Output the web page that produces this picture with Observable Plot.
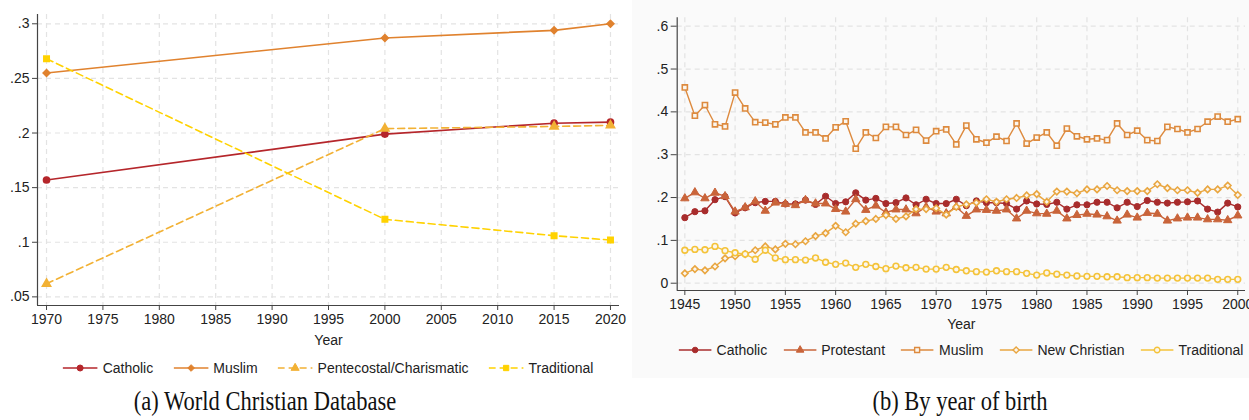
<!DOCTYPE html>
<html>
<head>
<meta charset="utf-8">
<script src="https://cdn.jsdelivr.net/npm/d3@7"></script>
<script src="https://cdn.jsdelivr.net/npm/@observablehq/plot@0.6"></script>
<style>
  body { margin: 0; background: #fff; }
  #root { position: relative; width: 1249px; height: 420px; background: #fff; overflow: hidden; font-family: "Liberation Sans", Arial, sans-serif; }
  #pa { position: absolute; left: 0; top: 0; }
  #pbBox { position: absolute; left: 632px; top: 0; width: 617px; height: 378px; background: #fafafa; }
  #pb { position: absolute; left: 0; top: 0; }
  .legend { position: absolute; display: flex; align-items: center; font-size: 14px; color: #222; white-space: nowrap; transform: translateX(-50%); }
  .legend .item { display: flex; align-items: center; }
  .legend svg { display: block; margin-right: 5px; }
  .caption { position: absolute; font-family: "Liberation Serif", "DejaVu Serif", serif; font-size: 26.5px; color: #111; white-space: nowrap; transform: translateX(-50%) scaleX(0.85); transform-origin: 50% 50%; }
</style>
</head>
<body>
<div id="root">
  <div id="pa"></div>
  <div id="pbBox"><div id="pb"></div></div>
  <div id="legA" class="legend" style="left:328px; top:360px; gap:20px"></div>
  <div id="legB" class="legend" style="left:961px; top:342px; gap:16px"></div>
  <div class="caption" style="left:265px; top:386px">(a) World Christian Database</div>
  <div class="caption" style="left:960px; top:386px">(b) By year of birth</div>
</div>
<script>
// ---------- Panel (a): World Christian Database ----------
const yearsA = [1970, 2000, 2015, 2020];
const catholicA = [0.157, 0.199, 0.209, 0.210];
const muslimA = [0.255, 0.287, 0.294, 0.300];
const pentecostalA = [0.062, 0.204, 0.206, 0.207];
const traditionalA = [0.268, 0.121, 0.106, 0.102];

const xTicksA = [1970, 1975, 1980, 1985, 1990, 1995, 2000, 2005, 2010, 2015, 2020];
const yTicksA = [0.05, 0.1, 0.15, 0.2, 0.25, 0.3];
const xDomainA = [1969.2, 2020.8];
const yDomainA = [0.0421, 0.3085];

// ---------- Panel (b): by year of birth ----------
const yearsB = d3.range(1945, 2001);
const catholicB = [
  0.153, 0.167, 0.169, 0.195, 0.202, 0.164, 0.176, 0.188, 0.191, 0.191,
  0.185, 0.185, 0.194, 0.184, 0.203, 0.186, 0.190, 0.211, 0.194, 0.198,
  0.186, 0.188, 0.199, 0.183, 0.196, 0.186, 0.186, 0.196, 0.181, 0.192,
  0.188, 0.188, 0.186, 0.173, 0.192, 0.185, 0.184, 0.189, 0.173, 0.183,
  0.183, 0.189, 0.189, 0.176, 0.189, 0.179, 0.193, 0.189, 0.187, 0.189,
  0.190, 0.192, 0.173, 0.166, 0.187, 0.178
];
const protestantB = [
  0.198, 0.212, 0.198, 0.211, 0.203, 0.167, 0.177, 0.191, 0.169, 0.188,
  0.185, 0.182, 0.194, 0.186, 0.186, 0.173, 0.167, 0.196, 0.171, 0.181,
  0.165, 0.172, 0.172, 0.163, 0.178, 0.167, 0.163, 0.178, 0.157, 0.172,
  0.171, 0.169, 0.172, 0.151, 0.169, 0.163, 0.162, 0.169, 0.151, 0.159,
  0.162, 0.160, 0.156, 0.146, 0.160, 0.153, 0.164, 0.162, 0.146, 0.151,
  0.153, 0.153, 0.149, 0.149, 0.147, 0.158
];
const muslimB = [
  0.457, 0.391, 0.416, 0.371, 0.366, 0.445, 0.408, 0.376, 0.375, 0.371,
  0.387, 0.387, 0.352, 0.352, 0.338, 0.364, 0.378, 0.314, 0.352, 0.339,
  0.365, 0.365, 0.346, 0.358, 0.333, 0.355, 0.359, 0.324, 0.368, 0.336,
  0.328, 0.342, 0.332, 0.373, 0.326, 0.340, 0.352, 0.321, 0.361, 0.343,
  0.336, 0.338, 0.334, 0.373, 0.346, 0.356, 0.334, 0.332, 0.365, 0.360,
  0.352, 0.360, 0.377, 0.389, 0.377, 0.383
];
const newChristianB = [
  0.023, 0.033, 0.030, 0.039, 0.058, 0.063, 0.068, 0.077, 0.086, 0.079,
  0.092, 0.091, 0.098, 0.110, 0.117, 0.134, 0.119, 0.139, 0.145, 0.150,
  0.159, 0.150, 0.156, 0.173, 0.173, 0.175, 0.160, 0.178, 0.184, 0.188,
  0.196, 0.190, 0.196, 0.199, 0.205, 0.208, 0.190, 0.214, 0.214, 0.210,
  0.219, 0.219, 0.227, 0.217, 0.215, 0.215, 0.215, 0.231, 0.222, 0.217,
  0.217, 0.211, 0.219, 0.219, 0.228, 0.206
];
const traditionalB = [
  0.077, 0.079, 0.078, 0.086, 0.076, 0.071, 0.068, 0.056, 0.077, 0.059,
  0.055, 0.055, 0.054, 0.059, 0.049, 0.044, 0.047, 0.037, 0.044, 0.039,
  0.034, 0.040, 0.036, 0.037, 0.033, 0.033, 0.037, 0.032, 0.029, 0.027,
  0.026, 0.029, 0.027, 0.027, 0.023, 0.019, 0.024, 0.021, 0.019, 0.017,
  0.016, 0.016, 0.015, 0.015, 0.013, 0.013, 0.013, 0.012, 0.012, 0.012,
  0.012, 0.012, 0.012, 0.009, 0.009, 0.009
];

const xTicksB = [1945, 1950, 1955, 1960, 1965, 1970, 1975, 1980, 1985, 1990, 1995, 2000];
const yTicksB = [0, 0.1, 0.2, 0.3, 0.4, 0.5, 0.6];
const xDomainB = [1944.24, 2000.77];
const yDomainB = [-0.017, 0.6196];

// Series styling
const seriesA = [
  {name: "Catholic", values: catholicA, color: "#b5262b", symbol: "circle", dash: null},
  {name: "Muslim", values: muslimA, color: "#e0822e", symbol: "diamond2", dash: null},
  {name: "Pentecostal/Charismatic", values: pentecostalA, color: "#f2b134", symbol: "triangle", dash: "7,4"},
  {name: "Traditional", values: traditionalA, color: "#ffd200", symbol: "square", dash: "7,4"}
];
const seriesB = [
  {name: "Catholic", values: catholicB, color: "#a82c2c", symbol: "circle", hollow: false},
  {name: "Protestant", values: protestantB, color: "#c9643a", symbol: "triangle", hollow: false},
  {name: "Muslim", values: muslimB, color: "#dd8a3e", symbol: "square", hollow: true},
  {name: "New Christian", values: newChristianB, color: "#e9a640", symbol: "diamond2", hollow: true},
  {name: "Traditional", values: traditionalB, color: "#f4c33a", symbol: "circle", hollow: true}
];

const fmtShare = d => d === 0 ? "0" : String(+d.toFixed(2)).replace(/^0\./, ".");
const gridStyle = {stroke: "#e3e3e3", strokeOpacity: 1, strokeWidth: 1.2, strokeDasharray: "5,4"};
const fontStyle = {fontFamily: "'Liberation Sans', Arial, sans-serif", fontSize: "14px", color: "#222", background: "transparent", overflow: "visible"};

function rowsOf(series, years) {
  return series.flatMap(s => years.map((yr, i) => ({series: s.name, year: yr, value: s.values[i]})));
}

// ----- chart (a)
const rowsA = rowsOf(seriesA, yearsA);
const marksA = [
  Plot.gridY(yTicksA, gridStyle),
  Plot.gridX(xTicksA, gridStyle),
  Plot.ruleX([xDomainA[0]], {stroke: "#444", strokeWidth: 1.2}),
  Plot.ruleY([yDomainA[0]], {stroke: "#444", strokeWidth: 1.2}),
  Plot.axisY(yTicksA, {tickFormat: fmtShare, tickSize: 5, tickPadding: 3, stroke: "#444", fill: "#222", label: null}),
  Plot.axisX(xTicksA, {tickFormat: d => String(d), tickSize: 5, tickPadding: 4, stroke: "#444", fill: "#222",
    label: "Year", labelAnchor: "center", labelArrow: "none", labelOffset: 39})
];
for (const s of seriesA) {
  const data = rowsA.filter(r => r.series === s.name);
  marksA.push(Plot.line(data, {x: "year", y: "value", stroke: s.color, strokeWidth: 1.6, strokeDasharray: s.dash || undefined}));
  marksA.push(Plot.dot(data, {x: "year", y: "value", fill: s.color, stroke: s.color, symbol: s.symbol, r: 3.1}));
}
const plotA = Plot.plot({
  width: 630, height: 345,
  marginLeft: 37, marginRight: 11, marginTop: 14, marginBottom: 40,
  x: {domain: xDomainA},
  y: {domain: yDomainA},
  style: fontStyle,
  marks: marksA
});
document.getElementById("pa").append(plotA);

// ----- chart (b)
const rowsB = rowsOf(seriesB, yearsB);
const marksB = [
  Plot.gridY(yTicksB, gridStyle),
  Plot.gridX(xTicksB, gridStyle),
  Plot.ruleX([xDomainB[0]], {stroke: "#444", strokeWidth: 1.2}),
  Plot.ruleY([yDomainB[0]], {stroke: "#444", strokeWidth: 1.2}),
  Plot.axisY(yTicksB, {tickFormat: fmtShare, tickSize: 6, tickPadding: 3, stroke: "#444", fill: "#222", label: null}),
  Plot.axisX(xTicksB, {tickFormat: d => String(d), tickSize: 5, tickPadding: 4, stroke: "#444", fill: "#222",
    label: "Year", labelAnchor: "center", labelArrow: "none", labelOffset: 38})
];
for (const s of seriesB) {
  const data = rowsB.filter(r => r.series === s.name);
  marksB.push(Plot.line(data, {x: "year", y: "value", stroke: s.color, strokeWidth: 1.4}));
  marksB.push(Plot.dot(data, {x: "year", y: "value", symbol: s.symbol, r: s.hollow ? 2.9 : 3.1,
    fill: s.hollow ? "#fbf6ee" : s.color, stroke: s.color, strokeWidth: s.hollow ? 1.6 : 1}));
}
const plotB = Plot.plot({
  width: 617, height: 335,
  marginLeft: 44.7, marginRight: 4, marginTop: 17.3, marginBottom: 45,
  x: {domain: xDomainB},
  y: {domain: yDomainB},
  style: fontStyle,
  marks: marksB
});
document.getElementById("pb").append(plotB);

// ----- legends (swatch = line + marker)
const symbolTypes = {circle: d3.symbolCircle, diamond2: d3.symbolDiamond2, triangle: d3.symbolTriangle, square: d3.symbolSquare};
function legend(el, series, opts) {
  const host = d3.select(el);
  for (const s of series) {
    const item = host.append("div").attr("class", "item");
    const svg = item.append("svg").attr("width", opts.w).attr("height", 14);
    svg.append("line").attr("x1", 0).attr("x2", opts.w).attr("y1", 7).attr("y2", 7)
      .attr("stroke", s.color).attr("stroke-width", 1.5)
      .attr("stroke-dasharray", s.dash || null);
    svg.append("path").attr("transform", `translate(${opts.w / 2},7)`)
      .attr("d", d3.symbol(symbolTypes[s.symbol], Math.PI * opts.r * opts.r)())
      .attr("fill", s.hollow ? "#fbf6ee" : s.color).attr("stroke", s.color)
      .attr("stroke-width", s.hollow ? 1.4 : 1);
    item.append("span").text(s.name);
  }
}
legend("#legA", seriesA, {w: 35, r: 3});
legend("#legB", seriesB, {w: 33, r: 2.8});
</script>
</body>
</html>
